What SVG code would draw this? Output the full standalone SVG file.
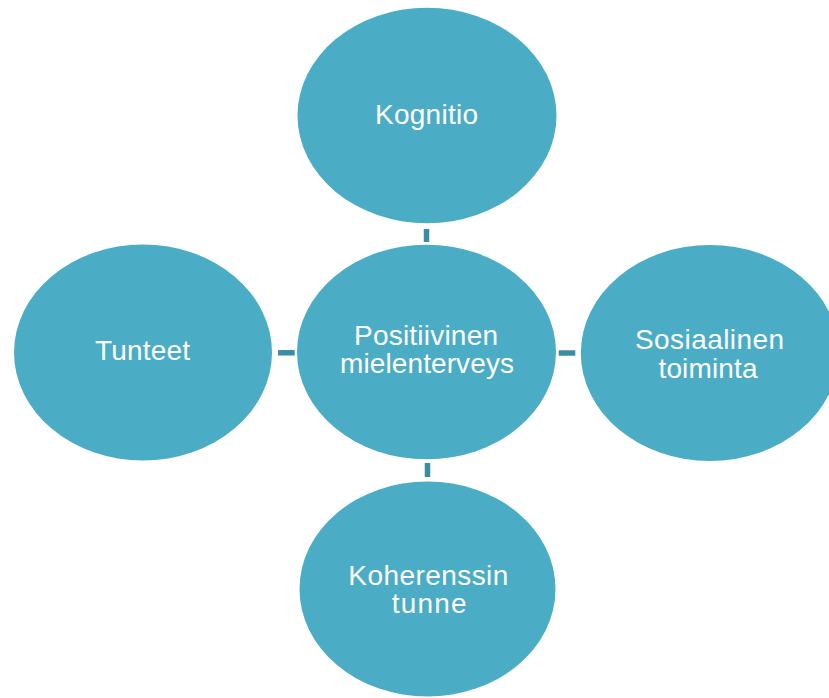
<svg xmlns="http://www.w3.org/2000/svg" width="829" height="698" viewBox="0 0 829 698">
  <style>
    .node { fill: #4BACC6; }
    .lbl { fill: #FFFFFF; font-family: "Liberation Sans", Arial, sans-serif; font-size: 28px; text-anchor: middle; }
    .conn { stroke: #3A8DA4; stroke-width: 5.5; fill: none; }
  </style>
  <rect width="829" height="698" fill="#FFFFFF"/>
  <g id="connectors">
    <line class="conn" x1="426.5" y1="229" x2="426.5" y2="242"/>
    <line class="conn" x1="427.5" y1="463" x2="427.5" y2="477"/>
    <line class="conn" x1="278" y1="352.8" x2="294.7" y2="352.8"/>
    <line class="conn" x1="558.7" y1="353" x2="575.3" y2="353"/>
  </g>
  <g id="node-kognitio">
    <ellipse class="node" cx="427" cy="115.5" rx="129.5" ry="107.7"/>
    <text class="lbl" x="426.5" y="123.8" textLength="103" lengthAdjust="spacing">Kognitio</text>
  </g>
  <g id="node-center">
    <ellipse class="node" cx="426.5" cy="352" rx="129.5" ry="107.3"/>
    <text class="lbl" x="426" y="344.5" textLength="144" lengthAdjust="spacing">Positiivinen</text>
    <text class="lbl" x="427" y="372.5" textLength="174" lengthAdjust="spacing">mielenterveys</text>
  </g>
  <g id="node-tunteet">
    <ellipse class="node" cx="143" cy="352.5" rx="129" ry="108"/>
    <text class="lbl" x="142.5" y="359.8" textLength="95" lengthAdjust="spacing">Tunteet</text>
  </g>
  <g id="node-sosiaalinen">
    <ellipse class="node" cx="709.8" cy="353" rx="129" ry="108"/>
    <text class="lbl" x="709.5" y="348.8" textLength="149" lengthAdjust="spacing">Sosiaalinen</text>
    <text class="lbl" x="708" y="377.8" textLength="99" lengthAdjust="spacing">toiminta</text>
  </g>
  <g id="node-koherenssi">
    <ellipse class="node" cx="427.5" cy="589" rx="128" ry="107.5"/>
    <text class="lbl" x="428.3" y="584.8" textLength="160" lengthAdjust="spacing">Koherenssin</text>
    <text class="lbl" x="429.2" y="612.8" textLength="75" lengthAdjust="spacing">tunne</text>
  </g>
</svg>
